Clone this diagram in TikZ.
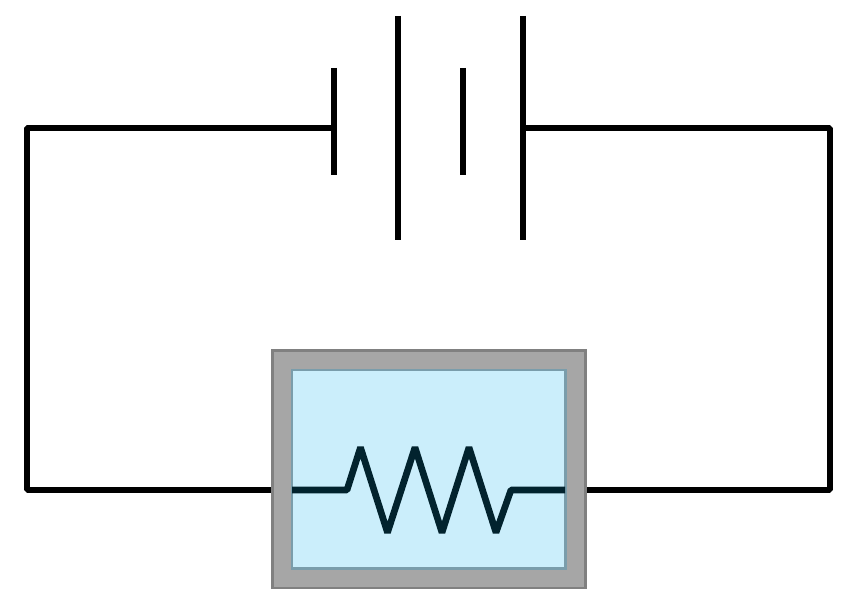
\documentclass[tikz,border=0pt]{standalone}
\definecolor{casegray}{HTML}{A6A6A6}
\definecolor{caseedge}{HTML}{808080}
\definecolor{waterblue}{HTML}{CBEEFB}
\definecolor{wateredge}{HTML}{7A9DAB}
\definecolor{heater}{HTML}{02232E}
\tikzset{
  wire/.style={black, line width=1.75pt, line join=bevel},
  plate/.style={black, line width=1.75pt},
  coil/.style={heater, line width=1.9pt, line join=bevel}
}
\begin{document}
\begin{tikzpicture}[x=0.01cm, y=-0.01cm]
    \useasboundingbox (0,0) rectangle (857,610);

    \coordinate (posend) at (334,128);
    \coordinate (negend) at (523,128);
    \coordinate (topleft) at (27,128);
    \coordinate (topright) at (830,128);
    \coordinate (botleft) at (27,490);
    \coordinate (botright) at (830,490);
    \coordinate (boxleft) at (273,490);
    \coordinate (boxright) at (585,490);
    \coordinate (coilleft) at (292,490);
    \coordinate (coilright) at (565,490);

    \draw[wire] (posend) -- (topleft) -- (botleft) -- (boxleft);
    \draw[wire] (negend) -- (topright) -- (botright) -- (boxright);

    \draw[plate] (334,68) -- (334,175);
    \draw[plate] (398,16) -- (398,240);
    \draw[plate] (463,68) -- (463,175);
    \draw[plate] (523,16) -- (523,240);

    \draw[caseedge, fill=casegray, line width=0.6pt] (272.5,350.5) rectangle (585.5,588);
    \draw[wateredge, fill=waterblue, line width=0.6pt] (292,370) rectangle (565.5,568.5);

    \draw[coil] (coilleft) -- (347,490) -- (360.5,447.5) -- (387.5,532.5) -- (415,447.5) -- (442,532.5) -- (469,447.5) -- (496,532.5) -- (511,490) -- (coilright);
\end{tikzpicture}
\end{document}
